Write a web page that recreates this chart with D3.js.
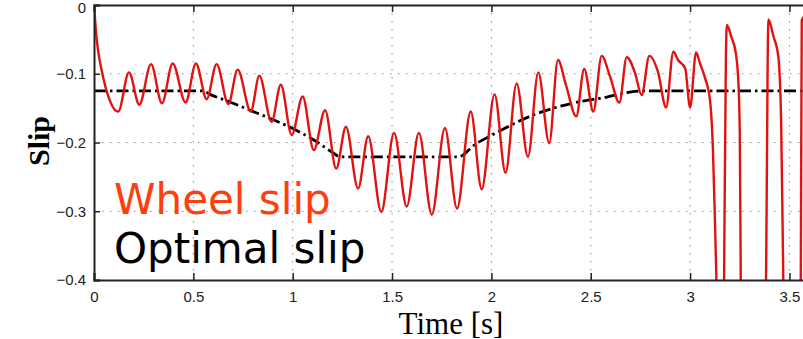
<!DOCTYPE html>
<html>
<head>
<meta charset="utf-8">
<script src="https://cdn.jsdelivr.net/npm/d3@7"></script>
<style>
  body { margin: 0; background: #fff; }
  svg { display: block; }
</style>
</head>
<body>
<svg id="chart"></svg>
<script>
// Wheel slip (time [s], slip)
const wheelT = [0, 0.005, 0.010, 0.020, 0.040, 0.070, 0.122, 0.176, 0.228, 0.287, 0.342, 0.396, 0.461, 0.513,
  0.567, 0.617, 0.676, 0.723, 0.789, 0.832, 0.894, 0.940, 0.995, 1.050, 1.106, 1.163, 1.219, 1.268, 1.329,
  1.380, 1.446, 1.510, 1.574, 1.635, 1.700, 1.766, 1.827, 1.896, 1.951, 2.016, 2.071, 2.127, 2.184, 2.236,
  2.291, 2.335, 2.375, 2.427, 2.467, 2.513, 2.555, 2.597, 2.644, 2.681, 2.723, 2.756, 2.795, 2.838, 2.879,
  2.916, 2.939, 2.975, 3.000, 3.030, 3.050, 3.075, 3.100, 3.115, 3.125, 3.135, 3.150, 3.166, 3.171, 3.180,
  3.185, 3.207, 3.230, 3.243, 3.250, 3.255, 3.265, 3.372, 3.382, 3.394, 3.419, 3.444, 3.458, 3.469, 3.478,
  3.548, 3.557, 3.562, 3.580];
const wheelSlip = [0, -0.019, -0.039, -0.065, -0.097, -0.131, -0.155, -0.098, -0.145, -0.086, -0.143, -0.085,
  -0.142, -0.085, -0.137, -0.086, -0.144, -0.094, -0.155, -0.103, -0.170, -0.116, -0.189, -0.133, -0.211,
  -0.153, -0.238, -0.177, -0.267, -0.191, -0.301, -0.186, -0.293, -0.186, -0.305, -0.179, -0.296, -0.155,
  -0.268, -0.130, -0.244, -0.114, -0.221, -0.098, -0.201, -0.080, -0.116, -0.162, -0.093, -0.155, -0.074,
  -0.104, -0.142, -0.076, -0.099, -0.131, -0.074, -0.097, -0.149, -0.068, -0.080, -0.092, -0.149, -0.069,
  -0.085, -0.106, -0.138, -0.211, -0.313, -0.429, -0.575, -0.575, -0.400, -0.080, -0.029, -0.046, -0.070,
  -0.113, -0.186, -0.400, -0.575, -0.575, -0.400, -0.021, -0.045, -0.075, -0.167, -0.400, -0.575, -0.575,
  -0.400, -0.022, -0.015];

// Optimal slip (time [s], slip)
const optT = [0, 0.549, 0.584, 0.684, 0.785, 0.886, 0.995, 1.121, 1.203, 1.238, 1.833, 1.917, 2.010, 2.211,
  2.421, 2.563, 2.756, 4.0];
const optSlip = [-0.125, -0.125, -0.130, -0.141, -0.153, -0.165, -0.179, -0.199, -0.215, -0.221, -0.221,
  -0.203, -0.188, -0.160, -0.142, -0.135, -0.125, -0.125];

const xTicks = [0, 0.5, 1, 1.5, 2, 2.5, 3, 3.5];
const yTicks = [0, -0.1, -0.2, -0.3, -0.4];
const legendLabels = ["Wheel slip", "Optimal slip"];

const width = 803, height = 339;
const margin = { top: 5, left: 94, bottom: 59 };
const plotRight = margin.left + 4 * 198.7;   // x limit 4 lies outside the cropped picture

const svg = d3.select("#chart").attr("width", width).attr("height", height);

const x = d3.scaleLinear().domain([0, 4]).range([margin.left, plotRight]);
const y = d3.scaleLinear().domain([-0.4, 0]).range([height - margin.bottom, margin.top]);

svg.append("clipPath").attr("id", "plot")
   .append("rect")
   .attr("x", x(0)).attr("y", y(0))
   .attr("width", x(4) - x(0)).attr("height", y(-0.4) - y(0));

// dotted grid
const grid = svg.append("g").attr("stroke", "#8c8c8c").attr("stroke-width", 1)
   .attr("stroke-dasharray", "1.5,6.5");
grid.selectAll(".gx").data(xTicks.filter(d => d > 0)).join("line")
   .attr("x1", d => x(d)).attr("x2", d => x(d))
   .attr("y1", y(0)).attr("y2", y(-0.4));
grid.selectAll(".gy").data(yTicks.filter(d => d > -0.4 && d < 0)).join("line")
   .attr("x1", x(0)).attr("x2", x(4))
   .attr("y1", d => y(d)).attr("y2", d => y(d));

// lines
const wheel = wheelT.map((t, i) => [t, wheelSlip[i]]);
const optimal = optT.map((t, i) => [t, optSlip[i]]);

const line = d3.line()
   .x(d => x(d[0]))
   .y(d => y(d[1]))
   .curve(d3.curveMonotoneX);

svg.append("path")
   .datum(optimal)
   .attr("clip-path", "url(#plot)")
   .attr("fill", "none")
   .attr("stroke", "#000")
   .attr("stroke-width", 2.8)
   .attr("stroke-dasharray", "12,4,2.5,4")
   .attr("d", line);

svg.append("path")
   .datum(wheel)
   .attr("clip-path", "url(#plot)")
   .attr("fill", "none")
   .attr("stroke", "#e01212")
   .attr("stroke-width", 2.4)
   .attr("stroke-linejoin", "round")
   .attr("d", line);

// axes (MATLAB box style, ticks inside)
const fmt = d => (d < 0 ? "\u2212" : "") + Math.abs(d);

svg.append("g")
   .attr("transform", `translate(0,${y(-0.4)})`)
   .call(d3.axisBottom(x).tickValues(xTicks).tickSize(-7).tickPadding(11).tickFormat(fmt))
   .call(g => g.select(".domain").attr("stroke-width", 2).attr("stroke", "#222"));

svg.append("g")
   .attr("transform", `translate(0,${y(0)})`)
   .call(d3.axisTop(x).tickValues(xTicks).tickSize(-7).tickFormat(""))
   .call(g => g.select(".domain").attr("stroke-width", 2).attr("stroke", "#222"));

svg.append("g")
   .attr("transform", `translate(${x(0)},0)`)
   .call(d3.axisLeft(y).tickValues(yTicks).tickSize(-6).tickPadding(8).tickFormat(fmt))
   .call(g => g.select(".domain").attr("stroke-width", 2).attr("stroke", "#222"))
   .call(g => g.selectAll(".tick text").filter(d => d === 0).attr("dy", "0.5em"));

svg.selectAll(".tick line").attr("stroke", "#222").attr("stroke-width", 1.5);
svg.selectAll(".tick text")
   .attr("font-family", "Liberation Sans, Arial, sans-serif")
   .attr("font-size", 15)
   .attr("fill", "#222");

// axis titles
svg.append("text")
   .attr("x", 451).attr("y", 333.5)
   .attr("text-anchor", "middle")
   .attr("font-family", "Liberation Serif, Times New Roman, serif")
   .attr("font-size", 31)
   .text("Time [s]");

svg.append("text")
   .attr("transform", "translate(49,141) rotate(-90)")
   .attr("text-anchor", "middle")
   .attr("font-family", "Liberation Serif, Times New Roman, serif")
   .attr("font-weight", "bold")
   .attr("font-size", 30)
   .text("Slip");

// legend text
svg.append("text")
   .attr("x", 114).attr("y", 214)
   .attr("font-family", "DejaVu Sans, Verdana, sans-serif")
   .attr("font-size", 42)
   .attr("fill", "#ff3d0d")
   .text(legendLabels[0]);

svg.append("text")
   .attr("x", 114).attr("y", 263)
   .attr("font-family", "DejaVu Sans, Verdana, sans-serif")
   .attr("font-size", 42)
   .attr("fill", "#000")
   .text(legendLabels[1]);
</script>
</body>
</html>
